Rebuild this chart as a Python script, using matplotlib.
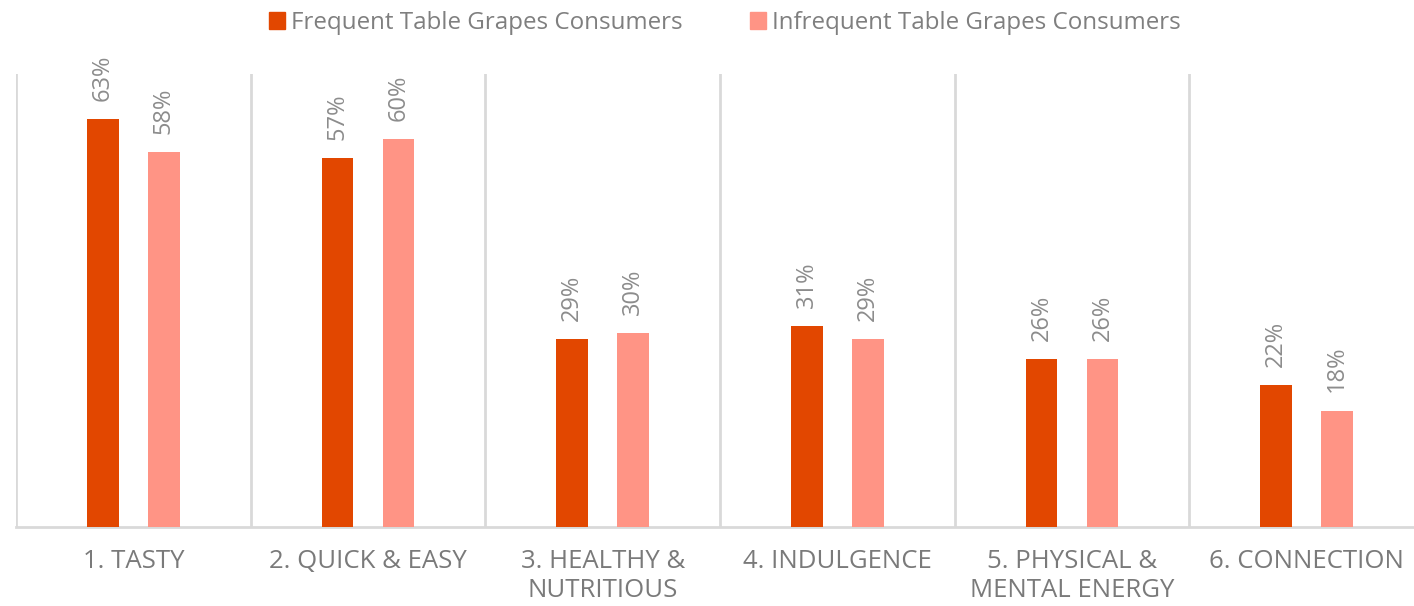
import numpy as np
import matplotlib
matplotlib.use("Agg")
import matplotlib.pyplot as plt
from matplotlib.patches import Patch

plt.rcParams['font.family'] = ['Open Sans', 'DejaVu Sans']

categories = ["1. TASTY", "2. QUICK & EASY", "3. HEALTHY &\nNUTRITIOUS",
              "4. INDULGENCE", "5. PHYSICAL &\nMENTAL ENERGY", "6. CONNECTION"]
frequent = [63, 57, 29, 31, 26, 22]
infrequent = [58, 60, 30, 29, 26, 18]
series_names = ["Frequent Table Grapes Consumers", "Infrequent Table Grapes Consumers"]

dark = "#E24700"
light = "#FF9485"
grid_col = "#D9D9D9"

W, H = 1414, 606
fig = plt.figure(figsize=(W / 100, H / 100), dpi=100)
# plot area runs slightly past the right edge of the canvas
ax = fig.add_axes([16 / W, 79 / H, 1408 / W, 453 / H])

x = np.arange(len(categories))
bw = 0.136
off = 0.13
b1 = ax.bar(x - off, frequent, bw, color=dark, zorder=3)
b2 = ax.bar(x + off, infrequent, bw, color=light, zorder=3)

for bars, vals in ((b1, frequent), (b2, infrequent)):
    for rect, v in zip(bars, vals):
        ax.annotate(f"{v}%", (rect.get_x() + rect.get_width() / 2, v),
                    xytext=(0, 13), textcoords="offset points",
                    ha="center", va="bottom", rotation=90,
                    fontsize=17, color="#8C8C8C")

ax.set_xlim(-0.5, len(categories) - 0.5)
ax.set_ylim(0, 70)
ax.set_yticks([])
ax.set_xticks(x)
ax.set_xticklabels(categories, fontsize=18.5, color="#7A7A7A", linespacing=1.2)
ax.set_xticks(np.arange(-0.5, len(categories)), minor=True)
ax.tick_params(axis="x", which="major", length=0, pad=16)
ax.tick_params(axis="x", which="minor", length=0)
ax.grid(axis="x", which="minor", color=grid_col, linewidth=2, zorder=0)
for s in ("top", "left", "right"):
    ax.spines[s].set_visible(False)
ax.spines["bottom"].set_color(grid_col)
ax.spines["bottom"].set_linewidth(2)

handles = [Patch(color=dark), Patch(color=light)]
fig.legend(handles, series_names, loc="center", ncol=2, frameon=False,
           bbox_to_anchor=(725 / W, 1 - 23 / H), fontsize=17.4,
           labelcolor="#7F7F7F", handlelength=0.66, handleheight=0.66,
           handletextpad=0.25, columnspacing=2.77)

fig.savefig("out.png", dpi=100)
